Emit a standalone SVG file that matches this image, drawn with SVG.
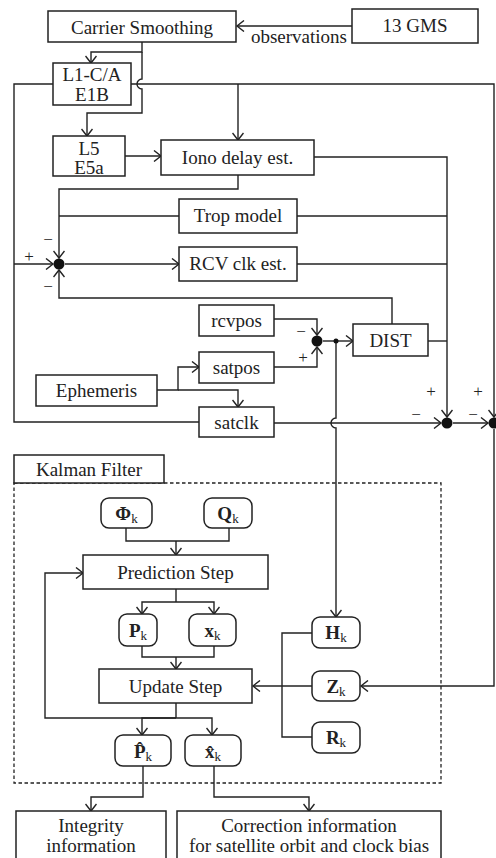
<svg xmlns="http://www.w3.org/2000/svg" width="496" height="858" viewBox="0 0 496 858">
<style>
.box{fill:#fff;stroke:#222;stroke-width:1.5}
.ln{fill:none;stroke:#222;stroke-width:1.4}
.dash{fill:none;stroke:#222;stroke-width:1.3;stroke-dasharray:3.5,2.5}
text{font-family:'Liberation Serif','Times New Roman',Tinos,'DejaVu Serif',serif;fill:#222}
.t{font-size:19px;text-anchor:middle}
.s{font-size:17px;text-anchor:middle}
.b{font-weight:bold}
.sub{font-size:13px;font-weight:normal}
.dot{fill:#111}
</style>
<defs>
<marker id="ah" markerWidth="10" markerHeight="12" refX="8" refY="6" orient="auto" markerUnits="userSpaceOnUse">
<path d="M1,0.5 L8,6 L1,11.5" fill="none" stroke="#222" stroke-width="1.4"/>
</marker>
</defs>
<rect width="496" height="858" fill="#fff"/>
<g id="connectors">
<path class="ln" d="M352,26 H237" marker-end="url(#ah)"/>
<path class="ln" d="M142,42 V52 H91 V63" marker-end="url(#ah)"/>
<path class="ln" d="M142,52 V79 A5,5 0 0 0 142,89 V113 H87 V136" marker-end="url(#ah)"/>
<path class="ln" d="M53,84 H14 V422 H199"/>
<path class="ln" d="M131,84 H494 V417" marker-end="url(#ah)"/>
<path class="ln" d="M238,84 V140" marker-end="url(#ah)"/>
<path class="ln" d="M125,156 H161" marker-end="url(#ah)"/>
<path class="ln" d="M14,264 H53" marker-end="url(#ah)"/>
<path class="ln" d="M238,175 V189 H59 V258" marker-end="url(#ah)"/>
<path class="ln" d="M179,216 H59"/>
<path class="ln" d="M392,324 V298 H59 V270" marker-end="url(#ah)"/>
<path class="ln" d="M65,264 H179" marker-end="url(#ah)"/>
<path class="ln" d="M314,157 H447 V417" marker-end="url(#ah)"/>
<path class="ln" d="M297,216 H447"/>
<path class="ln" d="M297,264 H447"/>
<path class="ln" d="M428,341 H447"/>
<path class="ln" d="M274,319 H317 V335" marker-end="url(#ah)"/>
<path class="ln" d="M274,367 H317 V347" marker-end="url(#ah)"/>
<path class="ln" d="M323,341 H353" marker-end="url(#ah)"/>
<path class="ln" d="M336,341 V418 A5,5 0 0 0 336,428 V617" marker-end="url(#ah)"/>
<path class="ln" d="M157,390 H178 V367 H199" marker-end="url(#ah)"/>
<path class="ln" d="M178,390 H238 V407" marker-end="url(#ah)"/>
<path class="ln" d="M274,423 H441" marker-end="url(#ah)"/>
<path class="ln" d="M453,423 H488" marker-end="url(#ah)"/>
<path class="ln" d="M494,429 V686 H361" marker-end="url(#ah)"/>
<path class="ln" d="M126,528 V541 H229 V528"/>
<path class="ln" d="M176,541 V555" marker-end="url(#ah)"/>
<path class="ln" d="M176,589 V602"/>
<path class="ln" d="M176,602 H142 V614" marker-end="url(#ah)"/>
<path class="ln" d="M176,602 H214 V614" marker-end="url(#ah)"/>
<path class="ln" d="M142,646 V657 H214 V646"/>
<path class="ln" d="M176,657 V669" marker-end="url(#ah)"/>
<path class="ln" d="M176,703 V718"/>
<path class="ln" d="M176,718 H45 V573 H83" marker-end="url(#ah)"/>
<path class="ln" d="M176,718 H142 V735" marker-end="url(#ah)"/>
<path class="ln" d="M176,718 H212 V735" marker-end="url(#ah)"/>
<path class="ln" d="M312,633 H282 V737 H312"/>
<path class="ln" d="M312,686 H253" marker-end="url(#ah)" stroke-width="1.8"/>
<path class="ln" d="M143,766 V797 H91 V811" marker-end="url(#ah)"/>
<path class="ln" d="M214,766 V797 H309 V811" marker-end="url(#ah)"/>
<circle class="dot" cx="59" cy="264" r="5.5"/>
<circle class="dot" cx="317" cy="341" r="5.5"/>
<circle class="dot" cx="336" cy="341" r="2.5"/>
<circle class="dot" cx="447" cy="423" r="5.5"/>
<circle class="dot" cx="494" cy="423" r="5.5"/>
<text class="s" x="48" y="245">−</text>
<text class="s" x="29" y="262">+</text>
<text class="s" x="48" y="292">−</text>
<text class="s" x="301" y="337">−</text>
<text class="s" x="303" y="363">+</text>
<text class="s" x="431" y="397">+</text>
<text class="s" x="416" y="420">−</text>
<text class="s" x="478" y="397">+</text>
<text class="s" x="473" y="420">−</text>
<text class="t" x="347" y="43" style="text-anchor:end">observations</text>
</g>
<g id="carrier"><rect class="box" x="48" y="11" width="188" height="31"/><text class="t" x="142" y="33.5">Carrier Smoothing</text></g>
<g id="gms"><rect class="box" x="352" y="9" width="126" height="34"/><text class="t" x="415" y="32">13 GMS</text></g>
<g id="l1"><rect class="box" x="53" y="63" width="78" height="42"/><text class="t" x="92" y="81">L1-C/A</text><text class="t" x="92" y="101">E1B</text></g>
<g id="l5"><rect class="box" x="53" y="136" width="72" height="40"/><text class="t" x="89" y="155">L5</text><text class="t" x="89" y="174">E5a</text></g>
<g id="iono"><rect class="box" x="161" y="140" width="153" height="35"/><text class="t" x="237.5" y="164">Iono delay est.</text></g>
<g id="trop"><rect class="box" x="179" y="199" width="118" height="34"/><text class="t" x="238" y="222">Trop model</text></g>
<g id="rcvclk"><rect class="box" x="179" y="247" width="118" height="34"/><text class="t" x="238" y="270">RCV clk est.</text></g>
<g id="rcvpos"><rect class="box" x="199" y="305" width="75" height="31"/><text class="t" x="236.5" y="327">rcvpos</text></g>
<g id="satpos"><rect class="box" x="199" y="352" width="75" height="31"/><text class="t" x="236.5" y="374">satpos</text></g>
<g id="ephemeris"><rect class="box" x="36" y="375" width="121" height="31"/><text class="t" x="96.5" y="397">Ephemeris</text></g>
<g id="satclk"><rect class="box" x="199" y="407" width="75" height="30"/><text class="t" x="236.5" y="429">satclk</text></g>
<g id="dist"><rect class="box" x="353" y="324" width="75" height="32"/><text class="t" x="390.5" y="347">DIST</text></g>
<g id="kalman">
<rect class="dash" x="14" y="483" width="427" height="300"/>
<rect class="box" x="14" y="455" width="150" height="28"/><text class="t" x="89" y="476">Kalman Filter</text>
</g>
<g id="phi"><rect class="box" x="101" y="498" width="51" height="30" rx="8"/><text class="t b" x="126.5" y="520">Φ<tspan class="sub" dy="3">k</tspan></text></g>
<g id="q"><rect class="box" x="204" y="498" width="48" height="30" rx="8"/><text class="t b" x="228" y="520">Q<tspan class="sub" dy="3">k</tspan></text></g>
<g id="prediction"><rect class="box" x="83" y="555" width="185" height="34"/><text class="t" x="175.5" y="579">Prediction Step</text></g>
<g id="pk"><rect class="box" x="119" y="614" width="38" height="32" rx="8"/><text class="t b" x="138" y="637">P<tspan class="sub" dy="3">k</tspan></text></g>
<g id="xk"><rect class="box" x="189" y="614" width="47" height="32" rx="8"/><text class="t b" x="212.5" y="637">x<tspan class="sub" dy="3">k</tspan></text></g>
<g id="update"><rect class="box" x="99" y="669" width="153" height="34"/><text class="t" x="175.5" y="693">Update Step</text></g>
<g id="hk"><rect class="box" x="312" y="617" width="48" height="31" rx="8"/><text class="t b" x="336" y="639">H<tspan class="sub" dy="3">k</tspan></text></g>
<g id="zk"><rect class="box" x="312" y="671" width="48" height="30" rx="8"/><text class="t b" x="336" y="693">Z<tspan class="sub" dy="3">k</tspan></text></g>
<g id="rk"><rect class="box" x="312" y="722" width="48" height="31" rx="8"/><text class="t b" x="336" y="744">R<tspan class="sub" dy="3">k</tspan></text></g>
<g id="phat"><rect class="box" x="115" y="735" width="56" height="31" rx="8"/><text class="t b" x="143" y="758">P̂<tspan class="sub" dy="3">k</tspan></text></g>
<g id="xhat"><rect class="box" x="185" y="735" width="56" height="31" rx="8"/><text class="t b" x="213" y="758">x̂<tspan class="sub" dy="3">k</tspan></text></g>
<g id="integrity"><rect class="box" x="16" y="811" width="150" height="60"/><text class="t" x="91" y="832">Integrity</text><text class="t" x="91" y="852">information</text></g>
<g id="correction"><rect class="box" x="177" y="811" width="264" height="60"/><text class="t" x="309" y="832">Correction information</text><text class="t" x="309" y="852">for satellite orbit and clock bias</text></g>
</svg>
